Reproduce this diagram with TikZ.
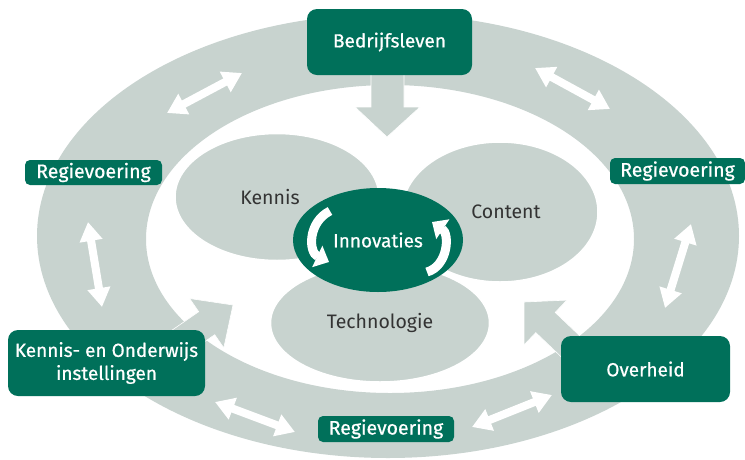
\documentclass[tikz,border=0pt]{standalone}
\usepackage{fontspec}
\setmainfont{Fira Sans}
\newfontfamily\boxfont{Fira Sans}[FakeBold=0.6]
\usetikzlibrary{shapes.geometric,arrows.meta}
\definecolor{dgreen}{RGB}{0,112,90}
\definecolor{lgray}{RGB}{200,211,207}
\definecolor{dtext}{RGB}{51,51,51}

\begin{document}
\begin{tikzpicture}[x=1pt,y=-1pt,
  groenbox/.style={rounded corners=10pt, fill=dgreen, text=white, align=center, inner sep=0pt, font=\boxfont\fontsize{19}{23}\selectfont},
  regiebox/.style={groenbox, rounded corners=5pt, font=\boxfont\fontsize{19.5}{23}\selectfont},
  veld/.style={ellipse, fill=lgray, draw=white, line width=1.5pt, text=dtext, inner sep=0pt, font=\fontsize{19.5}{24}\selectfont},
  blokpijl/.style={fill=lgray, draw=white, line width=0.6pt},
  wissel/.style={white, line width=8pt, {Triangle[width=22pt,length=19pt]}-{Triangle[width=22pt,length=19pt]}},
  draai/.style={white, draw=white, line width=9pt, -{Triangle[width=23pt,length=13pt]}}]
\useasboundingbox (0,0) rectangle (745,459);
% ring
\fill[lgray, even odd rule] (388,236) ellipse [x radius=351, y radius=222]
  (390,239) ellipse [x radius=244, y radius=154];
% grote pijlen naar het midden
\draw[blokpijl] (371,70) -- (404,70) -- (404,107) -- (420,107) -- (387,137) -- (355,107) -- (371,107) -- cycle;
\draw[blokpijl] (149.4,345.8) -- (198.7,311.7) -- (189.6,298.5) -- (233,305) -- (223.8,347.9) -- (214.7,334.7) -- (165.4,368.8) -- cycle;
\draw[blokpijl] (595,350.4) -- (555.2,312.4) -- (566.9,300.1) -- (524,302) -- (524.1,344.9) -- (535.8,332.6) -- (575.6,370.6) -- cycle;
% velden
\node[veld, minimum width=204pt, minimum height=127pt] (kennis) at (277,197) {\hspace*{-14pt}Kennis};
\node[veld, minimum width=196pt, minimum height=140pt] (content) at (500,212) {\hspace*{12pt}Content};
\node[veld, minimum width=219pt, minimum height=118pt] (techno) at (380,323) {Technologie};
\node[ellipse, fill=dgreen, text=white, inner sep=0pt, minimum width=170pt, minimum height=104pt, font=\boxfont\fontsize{19}{23}\selectfont] (innov) at (378,240) {Innovaties};
\draw[draai] (330,211) .. controls (308,222) and (308,252) .. (329,262);
\draw[draai] (427,272) .. controls (448,266) and (450,234) .. (432,222);
% actoren
\node[groenbox, minimum width=165pt, minimum height=66pt] (bedrijf) at (389.5,42) {Bedrijfsleven};
\node[groenbox, minimum width=197pt, minimum height=66pt] (kennisinst) at (106.5,363) {Kennis- en Onderwijs\\instellingen};
\node[groenbox, minimum width=169pt, minimum height=66pt] (overheid) at (645.5,369) {Overheid};
\node[regiebox, minimum width=137pt, minimum height=25pt] (regieL) at (93.5,172.5) {Regievoering};
\node[regiebox, minimum width=135pt, minimum height=26pt] (regieR) at (677.5,171) {Regievoering};
\node[regiebox, minimum width=136pt, minimum height=26pt] (regieB) at (386,429) {Regievoering};
% wisselwerking
\coordinate (w1a) at (167,113); \coordinate (w1b) at (242,73);
\coordinate (w2a) at (535,68);  \coordinate (w2b) at (610,109);
\coordinate (w3a) at (88,222);  \coordinate (w3b) at (102,307);
\coordinate (w4a) at (691,224); \coordinate (w4b) at (665,308);
\coordinate (w5a) at (215,402); \coordinate (w5b) at (295,432);
\coordinate (w6a) at (472,427); \coordinate (w6b) at (552,395);
\foreach \w in {1,...,6}
  \draw[wissel] (w\w a) -- (w\w b);
\end{tikzpicture}
\end{document}
